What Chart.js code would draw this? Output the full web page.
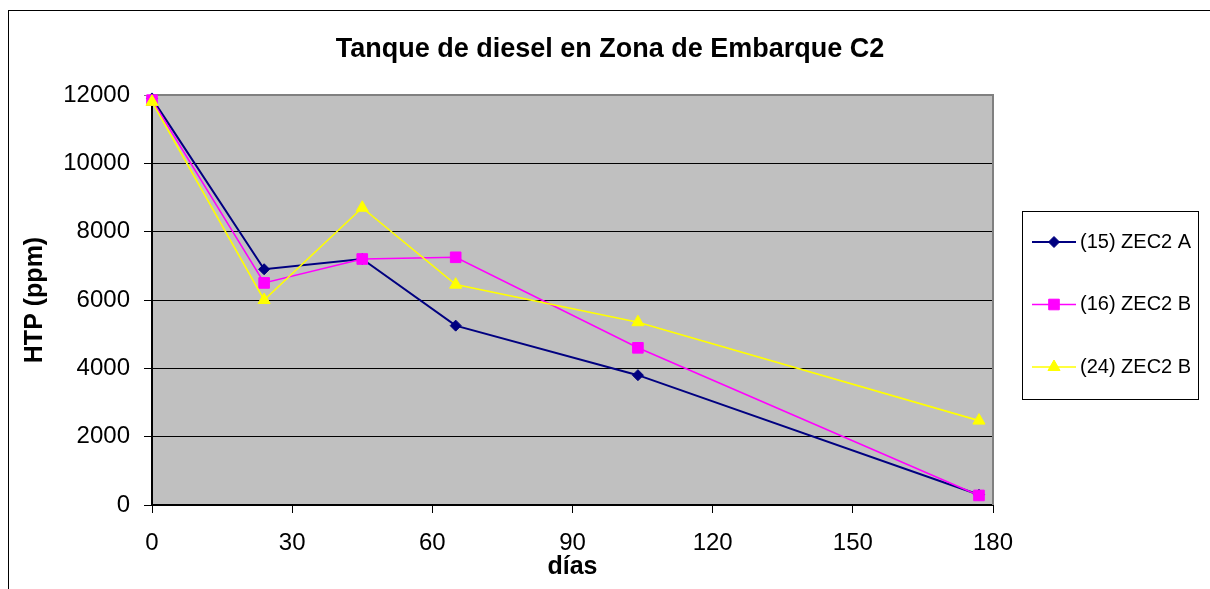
<!DOCTYPE html>
<html>
<head>
<meta charset="utf-8">
<script src="https://cdn.jsdelivr.net/npm/chart.js@4/dist/chart.umd.min.js"></script>
<style>
  html, body { margin: 0; padding: 0; background: #fff; }
  #wrap { position: absolute; left: 0; top: 0; width: 1210px; height: 589px; }
</style>
</head>
<body>
<div id="wrap"><canvas id="c" width="1210" height="589"></canvas></div>
<script>
const chartTitle = 'Tanque de diesel en Zona de Embarque C2';
const xTitle = 'días';
const yTitle = 'HTP (ppm)';
const days = [0, 24, 45, 65, 104, 177];
const seriesNames = ['(15) ZEC2 A', '(16) ZEC2 B', '(24) ZEC2 B'];
const zec2A_15 = [11900, 6900, 7200, 5250, 3800, 300];
const zec2B_16 = [11850, 6500, 7200, 7250, 4600, 280];
const zec2B_24 = [11800, 6000, 8700, 6450, 5350, 2470];
const xTicks = [0, 30, 60, 90, 120, 150, 180];
const yTicks = [0, 2000, 4000, 6000, 8000, 10000, 12000];

const FONT = '"Liberation Sans", Arial, Helvetica, sans-serif';
Chart.defaults.font.family = FONT;
Chart.defaults.color = '#000';

function pts(vals) { return days.map((d, i) => ({ x: d, y: vals[i] })); }

const styles = [
  { color: '#000080', pointStyle: 'rectRot', radius: 5.5, width: 2 },
  { color: '#FF00FF', pointStyle: 'rect', radius: 7.5, width: 1.6 },
  { color: '#FFFF00', pointStyle: 'triangle', radius: 7, width: 1.6 }
];
const seriesData = [zec2A_15, zec2B_16, zec2B_24];

const datasets = seriesData.map((vals, i) => ({
  label: seriesNames[i],
  data: pts(vals),
  borderColor: styles[i].color,
  backgroundColor: styles[i].color,
  borderWidth: styles[i].width,
  pointStyle: styles[i].pointStyle,
  pointRadius: styles[i].radius,
  pointBorderWidth: 1,
  pointBackgroundColor: styles[i].color,
  pointBorderColor: styles[i].color,
  tension: 0,
  clip: false,
  order: 3 - i
}));

const decor = {
  id: 'decor',
  beforeDraw(chart) {
    const ctx = chart.ctx, a = chart.chartArea;
    ctx.save();
    ctx.fillStyle = '#fff';
    ctx.fillRect(0, 0, chart.width, chart.height);
    ctx.strokeStyle = '#000';
    ctx.lineWidth = 1;
    ctx.strokeRect(8.5, 10.5, 1400, 800);
    ctx.fillStyle = '#C0C0C0';
    ctx.fillRect(a.left, a.top, a.right - a.left, a.bottom - a.top);
    ctx.restore();
  },
  beforeDatasetsDraw(chart) {
    const ctx = chart.ctx, a = chart.chartArea;
    ctx.save();
    ctx.strokeStyle = '#808080';
    ctx.lineWidth = 2;
    ctx.beginPath();
    ctx.moveTo(a.left, a.top);
    ctx.lineTo(a.right, a.top);
    ctx.lineTo(a.right, a.bottom);
    ctx.stroke();
    ctx.restore();
  },
  afterDraw(chart) {
    const ctx = chart.ctx;
    ctx.save();
    ctx.fillStyle = '#000';
    ctx.font = 'bold 27px ' + FONT;
    ctx.textAlign = 'center';
    ctx.textBaseline = 'alphabetic';
    ctx.fillText(chartTitle, 610, 57);
    ctx.strokeStyle = '#000';
    ctx.lineWidth = 1;
    ctx.strokeRect(1022.5, 211.5, 176, 188);
    chart.data.datasets.forEach((ds, i) => {
      const y = 242 + i * 62.5;
      ctx.strokeStyle = ds.borderColor;
      ctx.lineWidth = ds.borderWidth;
      ctx.beginPath();
      ctx.moveTo(1032, y);
      ctx.lineTo(1076, y);
      ctx.stroke();
      ctx.fillStyle = ds.pointBackgroundColor;
      ctx.strokeStyle = ds.pointBorderColor;
      ctx.lineWidth = 1;
      Chart.helpers.drawPoint(ctx, { pointStyle: ds.pointStyle, radius: ds.pointRadius, rotation: 0, borderWidth: 1 }, 1054, y);
      ctx.fillStyle = '#000';
      ctx.font = '20px ' + FONT;
      ctx.textAlign = 'left';
      ctx.textBaseline = 'middle';
      ctx.fillText(ds.label, 1080, y);
    });
    ctx.restore();
  }
};

new Chart(document.getElementById('c'), {
  type: 'line',
  data: { datasets },
  options: {
    responsive: false,
    animation: false,
    devicePixelRatio: 1,
    layout: { padding: { left: 0, right: 217, top: 95, bottom: 0 } },
    plugins: {
      legend: { display: false },
      title: { display: false },
      tooltip: { enabled: false }
    },
    scales: {
      x: {
        type: 'linear',
        min: 0, max: 180,
        afterBuildTicks(s) { s.ticks = xTicks.map(v => ({ value: v })); },
        afterFit(s) { s.height = 84; },
        ticks: { font: { size: 24 }, color: '#000', padding: 16, maxRotation: 0, autoSkip: false, callback: (v) => String(v) },
        grid: { drawOnChartArea: false, drawTicks: true, tickLength: 8, color: '#000', lineWidth: 1 },
        border: { color: '#000', width: 2 },
        title: { display: true, text: xTitle, font: { size: 25, weight: 'bold' }, color: '#000', padding: { top: 0, bottom: 7 } }
      },
      y: {
        min: 0, max: 12000,
        afterBuildTicks(s) { s.ticks = yTicks.map(v => ({ value: v })); },
        afterFit(s) { s.width = 152; },
        ticks: { font: { size: 24 }, color: '#000', padding: 14, callback: (v) => String(v) },
        grid: {
          drawTicks: true, tickLength: 8, lineWidth: 1,
          color: (c) => (c.tick && c.tick.value === 12000) ? '#808080' : '#000'
        },
        border: { color: '#000', width: 2 },
        title: { display: true, text: yTitle, font: { size: 25, weight: 'bold' }, color: '#000', padding: { top: 20, bottom: 0 } }
      }
    }
  },
  plugins: [decor]
});
</script>
</body>
</html>
